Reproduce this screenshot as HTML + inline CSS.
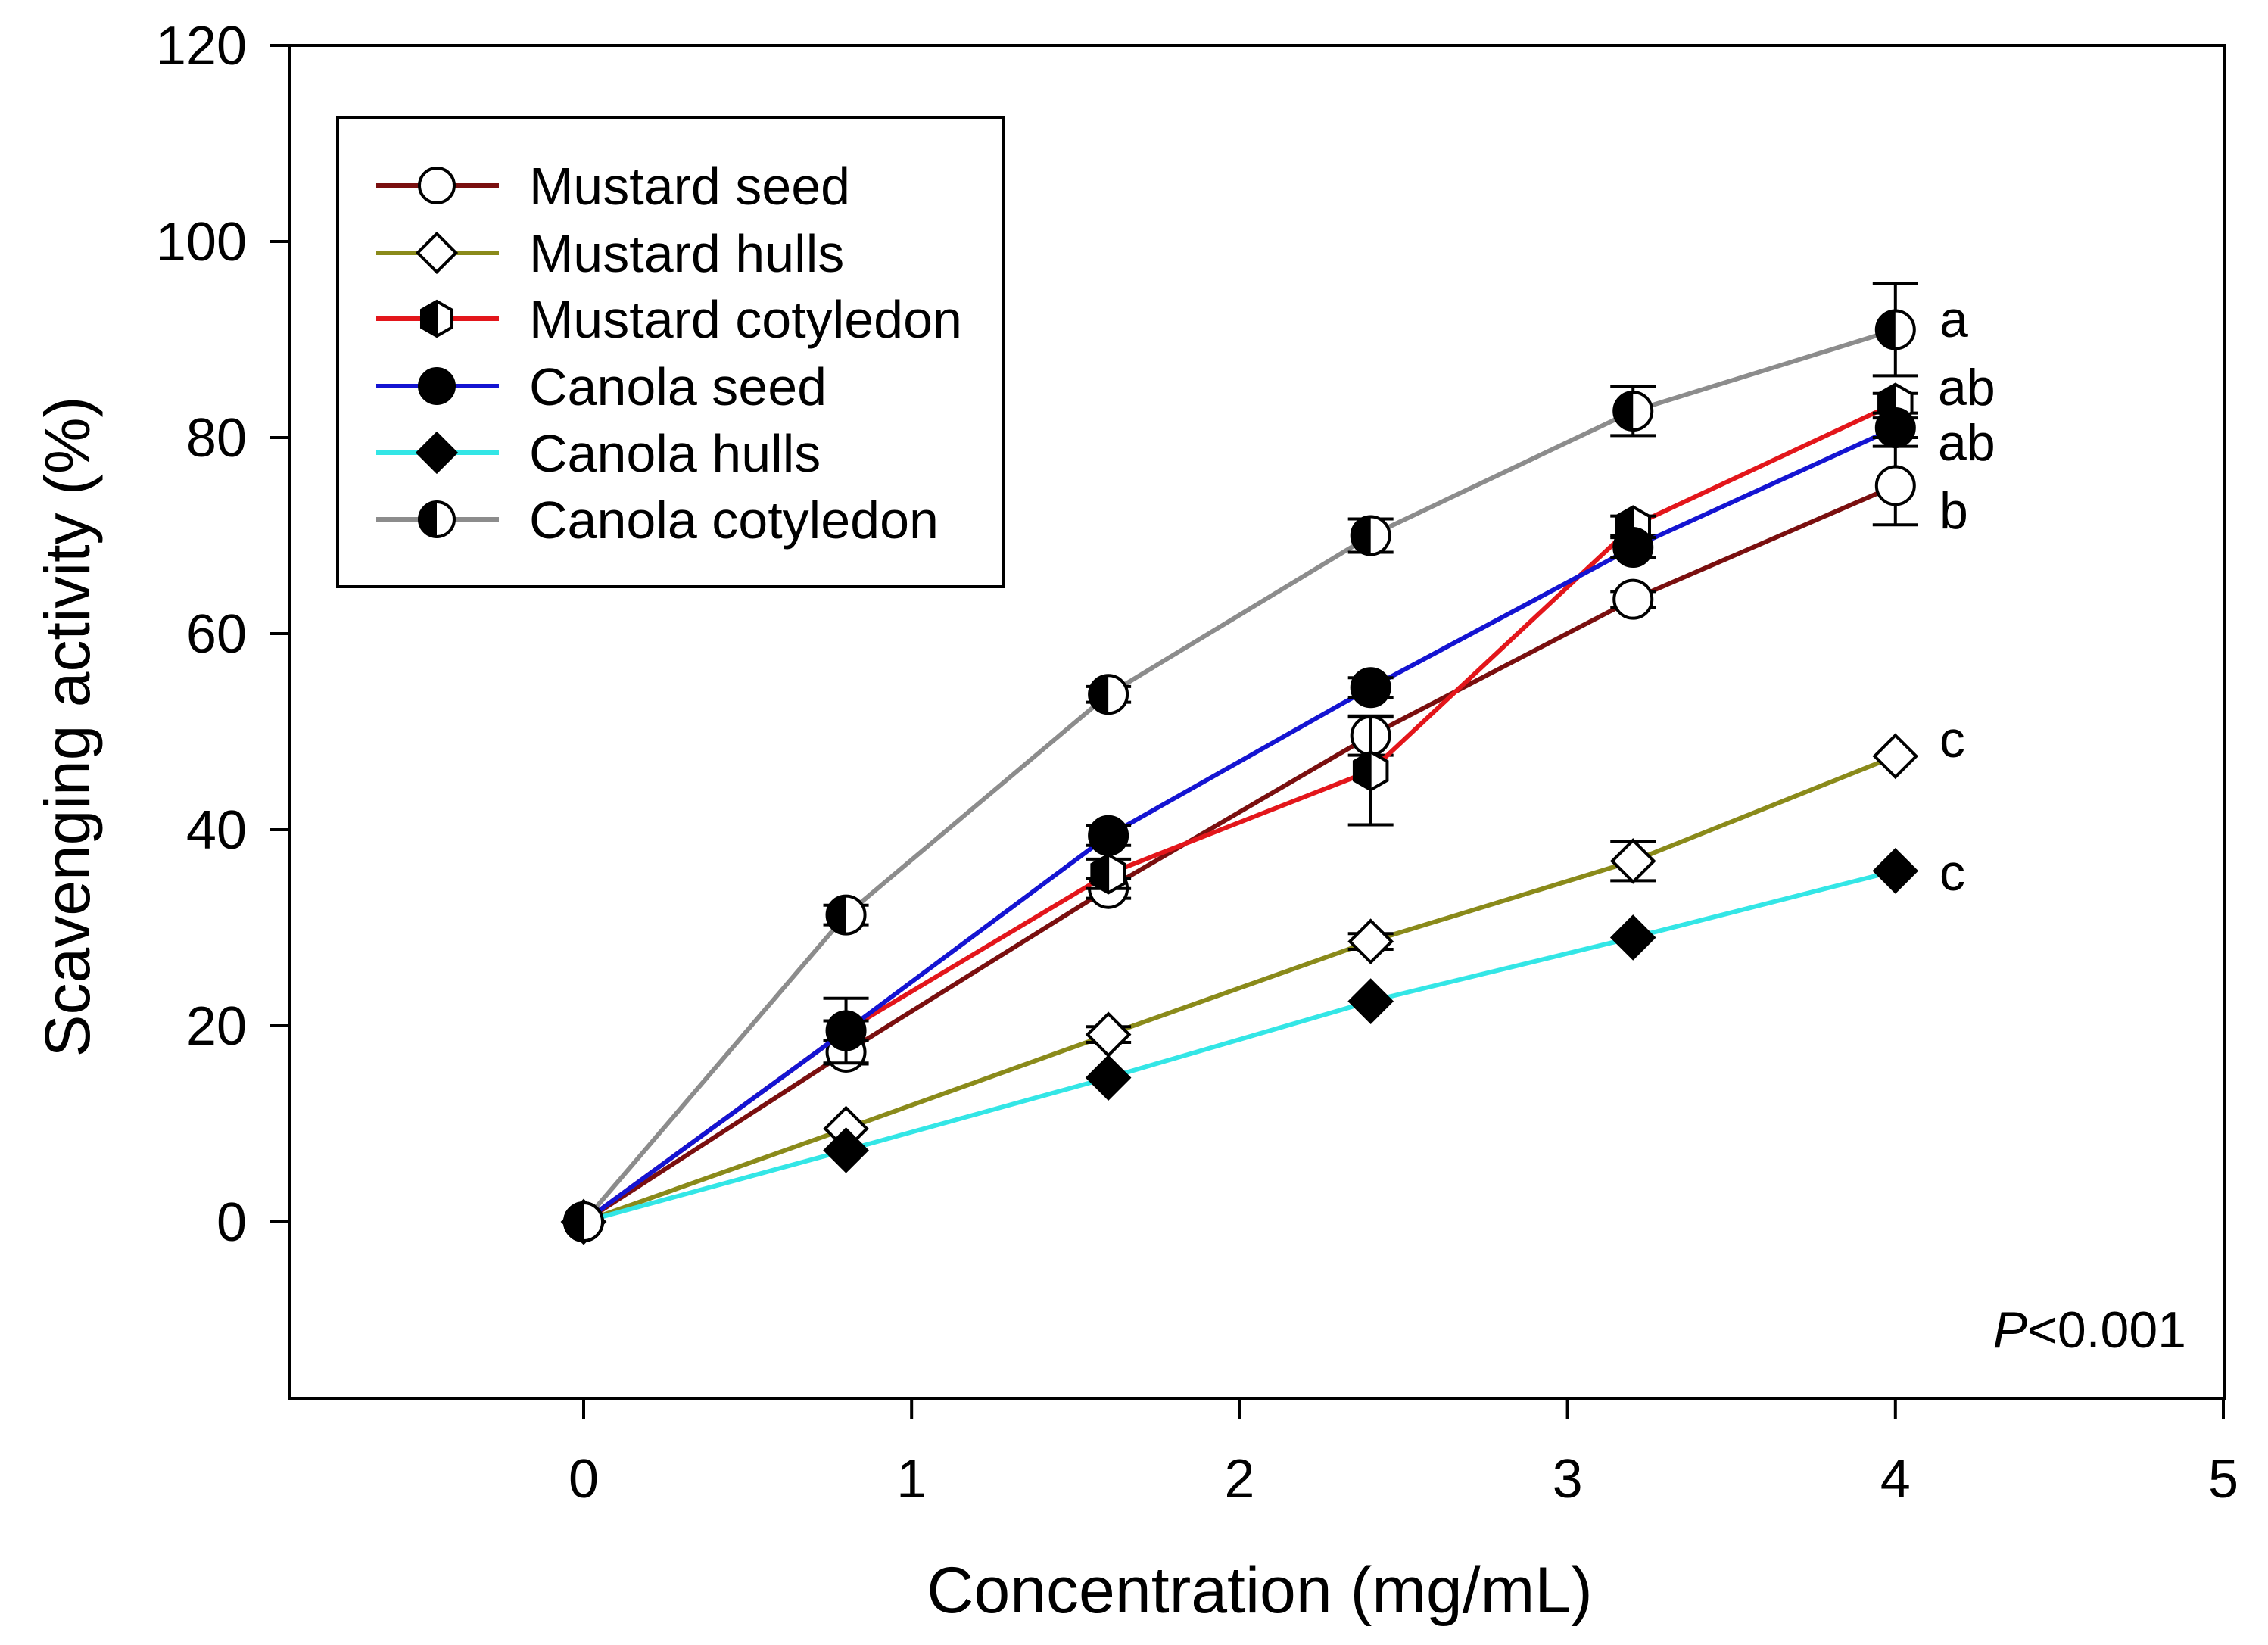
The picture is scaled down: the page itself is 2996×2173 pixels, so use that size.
<!DOCTYPE html>
<html><head><meta charset="utf-8"><style>
html,body{margin:0;padding:0;background:#fff;}
svg{display:block;font-family:"Liberation Sans",Arial,sans-serif;}
</style></head><body>
<svg id="chart" width="2996" height="2173" viewBox="0 0 2996 2173" xmlns="http://www.w3.org/2000/svg">
<rect x="0" y="0" width="2996" height="2173" fill="#fff"/>
<g id="series"></g>
<rect x="383" y="60" width="2555" height="1787" fill="none" stroke="#000" stroke-width="4"/>
<g id="axes"></g>
<text x="96" y="960" font-size="84" text-anchor="middle" transform="rotate(-90 96 960)" dominant-baseline="middle">Scavenging activity (%)</text>
<text x="1664" y="2130" font-size="86" text-anchor="middle">Concentration (mg/mL)</text>
<text x="2888" y="1780" font-size="68" text-anchor="end"><tspan font-style="italic">P</tspan>&lt;0.001</text>
<g id="letters"></g>
<g id="legend"></g>
</svg>
<script>
const xValues=[0,0.8,1.6,2.4,3.2,4];
const mustardSeed=[0,17.3,34.0,49.6,63.5,75.1];
const mustardSeedErr=[0,1.2,1.0,2.0,0.8,4.0];
const mustardHulls=[0,9.5,19.1,28.6,36.8,47.5];
const mustardHullsErr=[0,0.5,0.8,0.8,2.0,0.6];
const mustardCot=[0,19.5,35.5,46.0,71.0,83.5];
const mustardCotErr=[0,1.0,1.5,5.5,1.0,1.0];
const canolaSeed=[0,19.5,39.4,54.5,68.8,81.0];
const canolaSeedErr=[0,3.3,1.0,1.0,1.0,1.0];
const canolaHulls=[0,7.3,14.7,22.5,29.0,35.8];
const canolaHullsErr=[0,0.5,0.5,0.5,0.5,0.5];
const canolaCot=[0,31.3,53.8,70.0,82.7,91.0];
const canolaCotErr=[0,1.0,0.8,1.7,2.5,4.7];
const seriesNames=["Mustard seed","Mustard hulls","Mustard cotyledon","Canola seed","Canola hulls","Canola cotyledon"];
const yTicks=[0,20,40,60,80,100,120];
const xTicks=[0,1,2,3,4,5];
const sigLetters=["b","c","ab","ab","c","a"];

const NS="http://www.w3.org/2000/svg";
const X=v=>771+v*433.2;
const Y=v=>1614-v*(1554/120);
function mk(tag,attrs,parent){const e=document.createElementNS(NS,tag);for(const k in attrs)e.setAttribute(k,attrs[k]);parent.appendChild(e);return e;}

const series=[
 {vals:mustardSeed,err:mustardSeedErr,color:"#7a0f0f",marker:"circle-open"},
 {vals:mustardHulls,err:mustardHullsErr,color:"#8a8a1a",marker:"diamond-open"},
 {vals:mustardCot,err:mustardCotErr,color:"#e3161b",marker:"hex-half"},
 {vals:canolaSeed,err:canolaSeedErr,color:"#1414d2",marker:"circle-filled"},
 {vals:canolaHulls,err:canolaHullsErr,color:"#33e6e6",marker:"diamond-filled"},
 {vals:canolaCot,err:canolaCotErr,color:"#8c8c8c",marker:"circle-half"}
];
function drawMarker(g,type,cx,cy,r){
 if(type==="circle-open") return mk("circle",{cx,cy,r,fill:"#fff",stroke:"#000","stroke-width":4},g);
 if(type==="circle-filled") return mk("circle",{cx,cy,r,fill:"#000",stroke:"#000","stroke-width":4},g);
 if(type==="diamond-open"||type==="diamond-filled"){const d=r*1.1;return mk("polygon",{points:`${cx},${cy-d} ${cx+d},${cy} ${cx},${cy+d} ${cx-d},${cy}`,fill:type==="diamond-open"?"#fff":"#000",stroke:"#000","stroke-width":4},g);}
 if(type==="circle-half"){mk("circle",{cx,cy,r,fill:"#fff",stroke:"#000","stroke-width":4},g);
  return mk("path",{d:`M${cx},${cy-r} A${r},${r} 0 0 0 ${cx},${cy+r} Z`,fill:"#000"},g);}
 if(type==="hex-half"){const a=r*0.87,b=r*0.5;
  mk("polygon",{points:`${cx},${cy-r} ${cx+a},${cy-b} ${cx+a},${cy+b} ${cx},${cy+r} ${cx-a},${cy+b} ${cx-a},${cy-b}`,fill:"#fff",stroke:"#000","stroke-width":4},g);
  return mk("polygon",{points:`${cx},${cy-r} ${cx-a},${cy-b} ${cx-a},${cy+b} ${cx},${cy+r}`,fill:"#000",stroke:"#000","stroke-width":2},g);}
}
const sg=document.getElementById("series");
series.forEach((s,i)=>{
 const g=mk("g",{},sg);
 
 
 const pts=xValues.map((x,j)=>X(x)+","+Y(s.vals[j])).join(" ");
 const pl=mk("polyline",{points:pts,fill:"none",stroke:s.color,"stroke-width":6},g);
 
 
});
series.forEach((s,i)=>{
 const g=sg.children[i];
 xValues.forEach((x,j)=>{
  if(s.err[j]>0.6){const cx=X(x),t=Y(s.vals[j]+s.err[j]),b=Y(s.vals[j]-s.err[j]);
   const eb=mk("path",{d:`M${cx},${t}V${b}M${cx-30},${t}H${cx+30}M${cx-30},${b}H${cx+30}`,stroke:"#000","stroke-width":4,fill:"none"},g);
   
   }
 });
});
series.forEach((s,i)=>{
 const g=sg.children[i];
 xValues.forEach((x,j)=>{const m=drawMarker(g,s.marker,X(x),Y(s.vals[j]),25);
  
  });
});
const ax=document.getElementById("axes");
yTicks.forEach(v=>{
 const l=mk("line",{x1:357,x2:383,y1:Y(v),y2:Y(v),stroke:"#000","stroke-width":4},ax);
 
 
 const t=mk("text",{x:326,y:Y(v)+25,"font-size":72,"text-anchor":"end"},ax);t.textContent=v;
 
 
});
xTicks.forEach(v=>{
 const l=mk("line",{x1:X(v),x2:X(v),y1:1847,y2:1875,stroke:"#000","stroke-width":4},ax);
 
 
 const t=mk("text",{x:X(v),y:1978,"font-size":72,"text-anchor":"middle"},ax);t.textContent=v;
 
 
});
const lt=document.getElementById("letters");
const letterY=[698,1000,535,608,1176,445];
sigLetters.forEach((s,i)=>{
 const t=mk("text",{x:(s.length>1?2560:2562),y:letterY[i],"font-size":68},lt);t.textContent=s;
 
 
});
const lg=document.getElementById("legend");
mk("rect",{x:446,y:155,width:879,height:620,fill:"#fff",stroke:"#000","stroke-width":4},lg);
const rowY=[245,334,421,510,598,686];
series.forEach((s,i)=>{
 const g=mk("g",{},lg);
 
 
 mk("line",{x1:497,x2:659,y1:rowY[i],y2:rowY[i],stroke:s.color,"stroke-width":6},g);
 drawMarker(g,s.marker,577,rowY[i],23);
 const t=mk("text",{x:699,y:rowY[i]+25,"font-size":70},g);t.textContent=seriesNames[i];
});
</script>
</body></html>
